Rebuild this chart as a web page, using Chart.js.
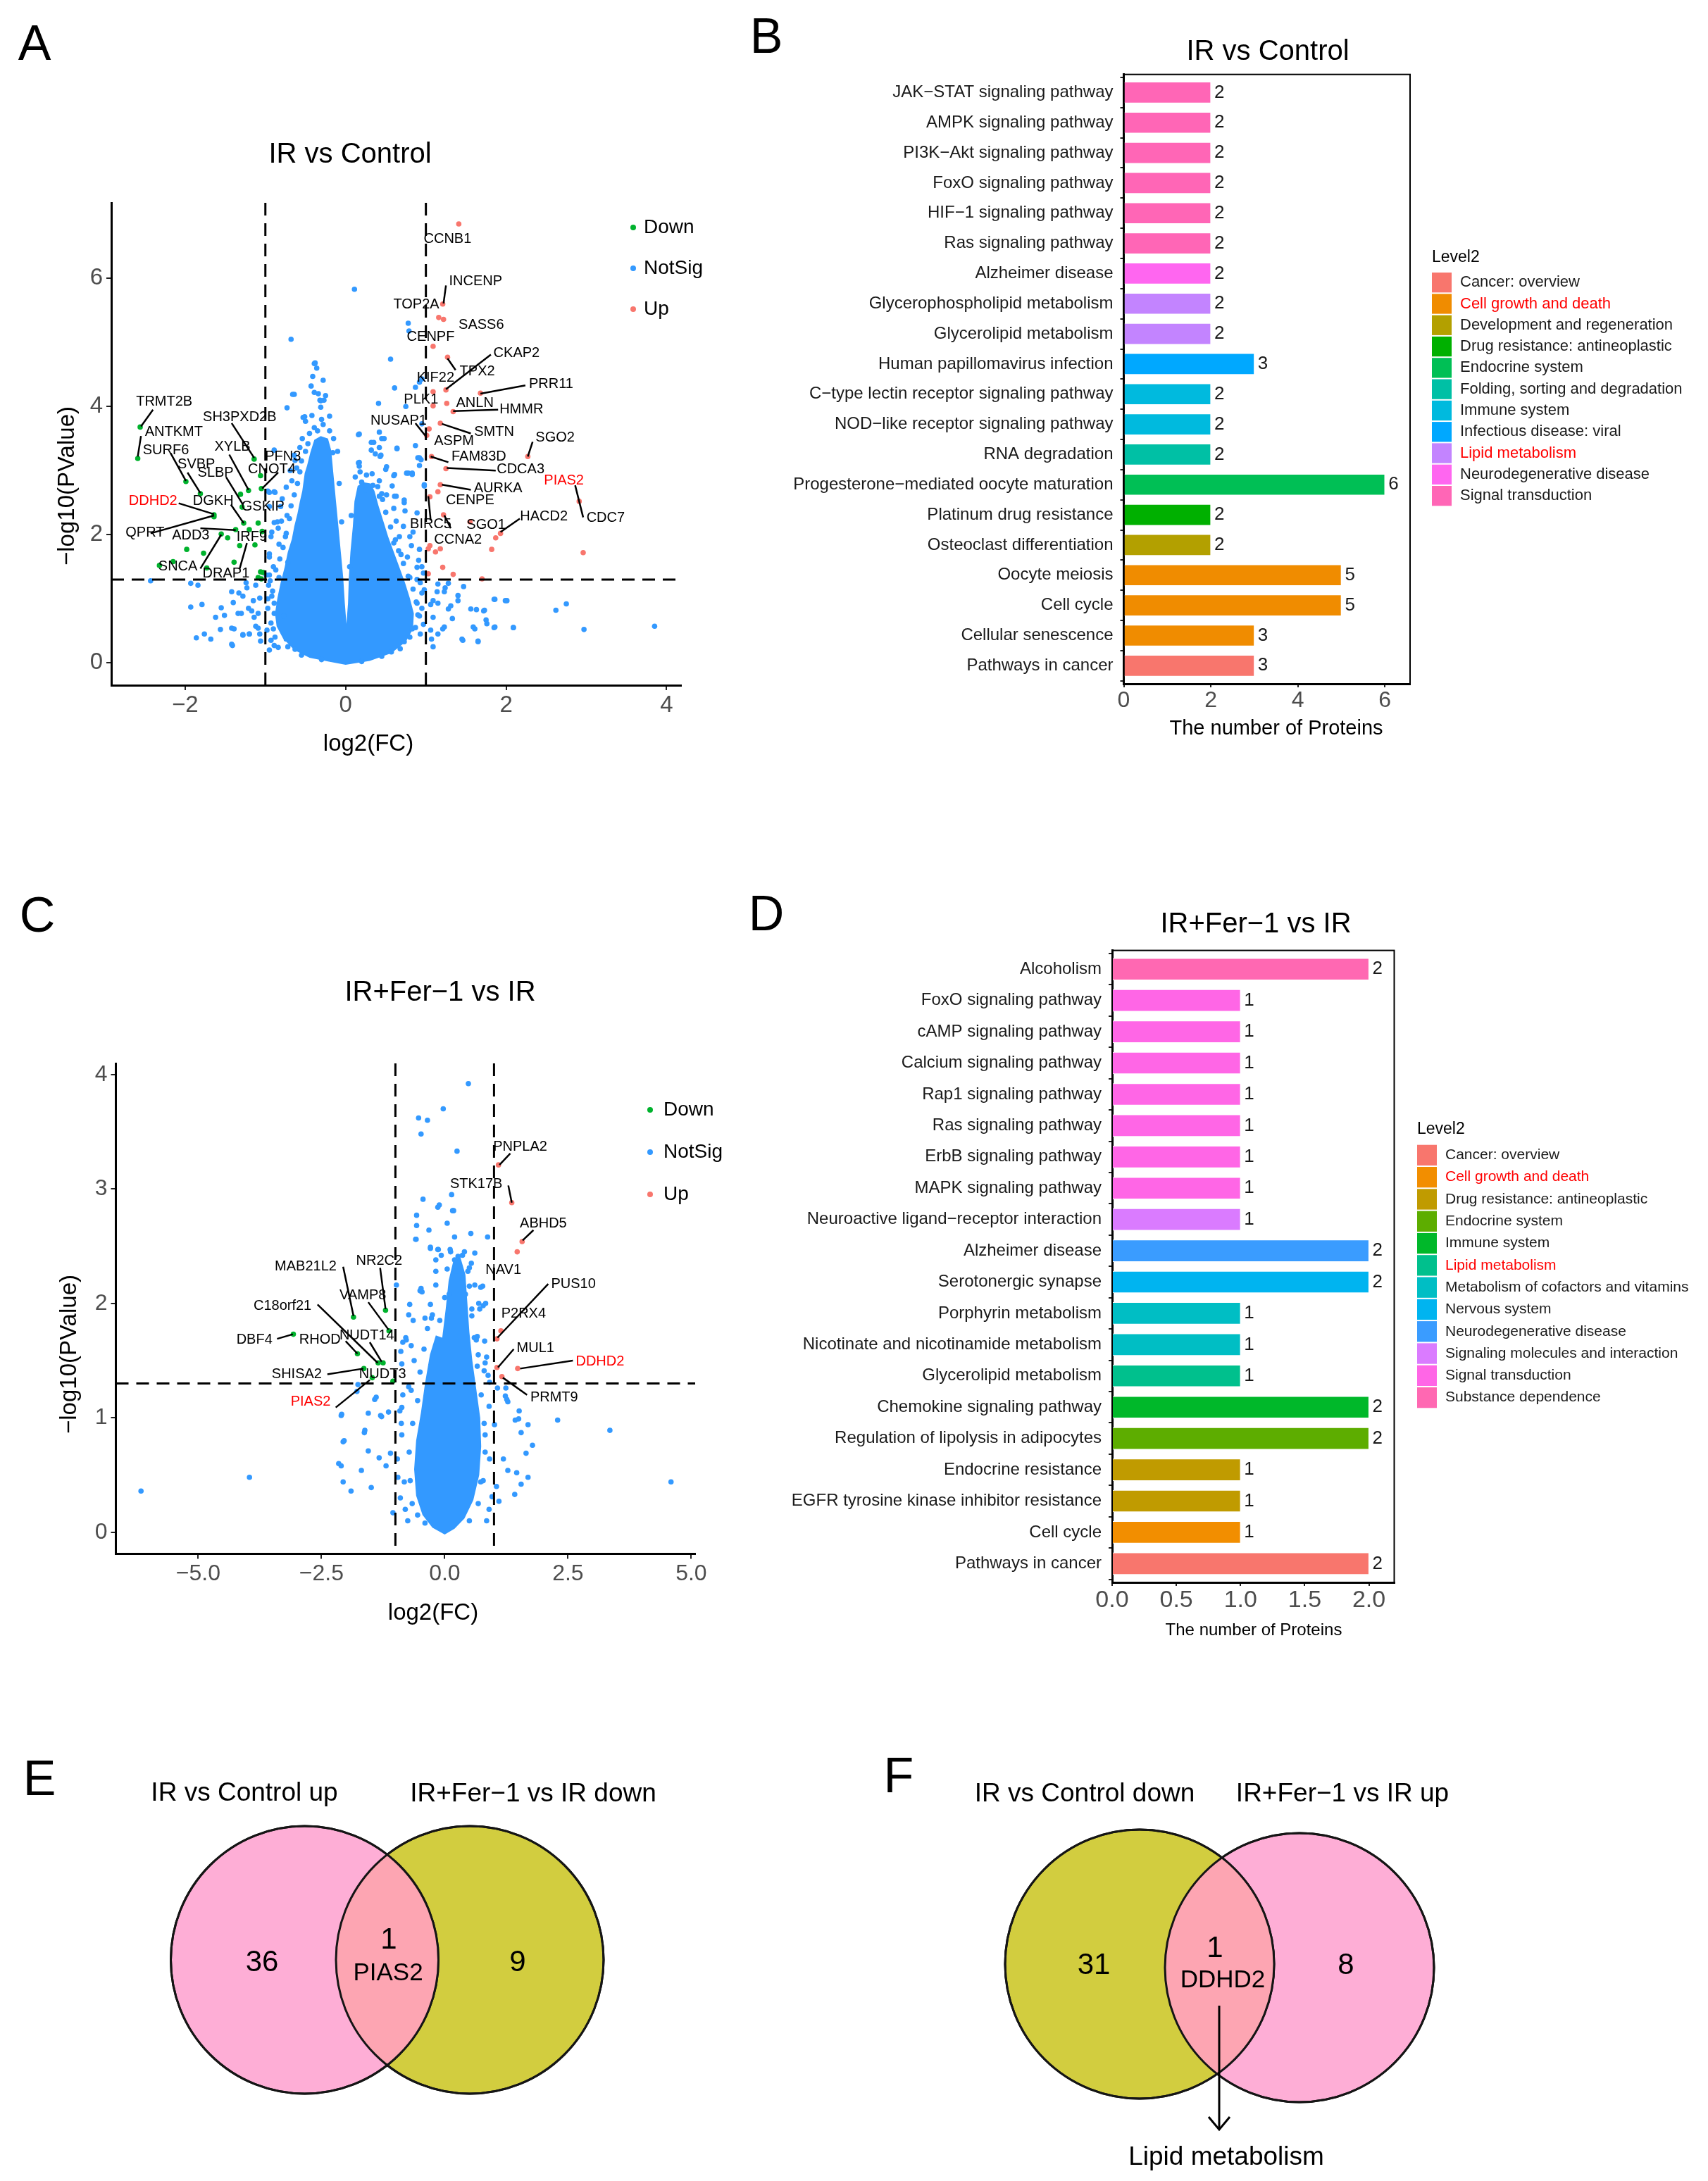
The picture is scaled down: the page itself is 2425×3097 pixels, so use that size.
<!DOCTYPE html>
<html>
<head>
<meta charset="utf-8">
<title>Proteomics figure</title>
<script src="https://cdn.jsdelivr.net/npm/chart.js@4.4.1/dist/chart.umd.min.js"></script>
<style>
html,body{margin:0;padding:0;background:#ffffff;}
#wrap{position:relative;width:2425px;height:3097px;background:#ffffff;overflow:hidden;}
#wrap canvas{position:absolute;display:block;}
</style>
</head>
<body>
<div id="wrap">
<canvas id="cA" style="left:0px;top:0px;width:1060px;height:1130px" width="1060" height="1130"></canvas>
<canvas id="cB" style="left:1060px;top:0px;width:1365px;height:1130px" width="1365" height="1130"></canvas>
<canvas id="cC" style="left:0px;top:1230px;width:1060px;height:1130px" width="1060" height="1130"></canvas>
<canvas id="cD" style="left:1060px;top:1230px;width:1365px;height:1130px" width="1365" height="1130"></canvas>
<canvas id="cE" style="left:0px;top:2450px;width:1200px;height:647px" width="1200" height="647"></canvas>
<canvas id="cF" style="left:1200px;top:2450px;width:1225px;height:647px" width="1225" height="647"></canvas>
</div>
<script>
const FONT = "'Liberation Sans', Arial, Helvetica, sans-serif";
Chart.defaults.font.family = FONT;

/* ================= DATA ================= */
/* Panel A : IR vs Control volcano  [log2FC, -log10 P] */
const volcanoA_notSig = [
[0.11,5.83],[-0.68,5.05],[0.56,4.74],[0.78,5.30],[0.79,5.18],[-0.38,4.68],[-0.36,4.60],[-0.28,4.41],[0.61,4.29],[0.87,4.30],[0.92,4.38],[0.95,4.43],[-0.64,4.19],[-0.39,4.22],[-0.32,4.10],[-0.27,4.10],[-0.73,3.98],[0.41,4.05],[0.75,4.00],[-0.53,3.83],[-0.50,3.77],[0.95,3.73],[0.42,3.60],[0.45,3.50],[0.17,3.57],[0.32,3.44],[0.64,3.35],[0.87,3.39],[0.44,3.24],[0.90,3.20],[0.94,3.17],[0.17,3.13],[0.17,3.07],[0.50,3.02],[0.61,2.94],[0.78,2.96],[0.83,2.96],[0.98,2.78],[0.20,2.82],[0.25,2.70],[0.34,2.77],[0.45,2.64],[0.61,2.60],[0.73,2.54],[0.89,2.34],[0.84,2.04],[0.67,1.97],[0.92,1.77],[0.95,1.50],[0.89,1.30],[0.98,1.14],
[1.28,1.24],[1.23,1.11],[1.40,0.97],[1.28,0.84],[1.56,0.84],[1.73,0.82],[1.86,0.99],[2.01,0.97],[1.06,0.91],[1.09,0.71],[1.23,0.56],[1.06,0.51],[1.09,0.25],[1.59,0.56],[1.76,0.61],[1.86,0.56],[2.09,0.55],[1.45,0.37],[1.65,0.34],[2.62,0.82],[2.75,0.92],[2.97,0.52],[3.85,0.57],[1.14,1.11],
[-2.43,1.28],[-1.93,1.24],[-1.84,1.21],[-1.93,0.87],[-1.79,0.91],[-1.55,0.86],[-1.40,0.94],[-1.28,1.04],[-1.23,1.17],[-1.42,1.11],[-1.62,0.71],[-1.51,0.74],[-1.34,0.77],[-1.17,0.81],[-1.14,0.71],[-1.56,0.52],[-1.42,0.54],[-1.28,0.44],[-1.20,0.45],[-1.09,0.54],[-1.86,0.39],[-1.76,0.45],[-1.68,0.37],[-1.41,0.27],[-1.06,0.34],
[-0.99,1.37],[-0.95,1.70],[-0.92,2.04],[-0.84,2.10],[-0.89,2.67],[-0.97,2.68],[-0.95,2.44],[-0.81,2.44],[-0.85,2.20],[-0.75,1.97],[-0.73,2.30],[-0.67,2.84],[-0.61,3.04],[-0.64,3.24],[-0.95,1.37],[-0.92,1.04],[-0.89,0.77],[-0.98,0.51],[-0.84,0.24],
[-0.39,4.67],[-0.41,4.47],[-0.43,4.32],[-0.66,4.19],[-0.34,4.20],[-0.25,4.17],[-0.31,4.09],[-0.31,3.99],[-0.42,3.86],[-0.51,3.84],[-0.28,3.72],[-0.39,3.67],[-0.54,3.50],[-0.15,3.50],[-0.57,3.36],[-0.16,3.28],[-0.89,3.32],[-0.63,3.16],[-0.69,3.00],[-0.74,2.74],[-0.95,2.66],[-0.88,2.66],[-0.79,2.56],[-0.89,2.19],[-0.80,2.21],[-0.93,1.97],[-0.83,1.85],[-0.95,1.65],[-0.72,1.57],[-0.83,1.33],[-0.96,1.21],[-0.89,0.93],[-0.77,0.73],[-0.90,0.53],[-0.74,0.37],[-0.63,0.21],
[0.16,3.56],[0.35,3.44],[0.42,3.36],[0.32,3.32],[0.48,3.50],[0.16,3.12],[0.37,3.26],[0.43,3.22],[0.51,3.06],[0.64,3.34],[0.92,3.20],[0.92,3.08],[0.60,2.92],[0.76,2.96],[0.83,2.94],[0.42,2.84],[0.58,2.76],[0.42,2.60],[0.51,2.62],[0.63,2.60],[0.73,2.50],[0.60,2.41],[0.98,2.76],[0.74,2.37],[0.63,2.21],[0.72,2.13],[0.80,1.97],[0.60,1.87],[0.82,1.83],[0.69,1.69],[0.77,1.65],[0.89,1.49],[0.80,1.33],[0.95,1.09],[0.89,0.93],[0.92,0.73],[0.83,0.53],[0.73,0.33],[0.57,0.17],
[1.15,1.23],[1.24,1.17],[1.47,1.19],[1.40,1.05],[1.85,0.99],[1.99,0.97],[1.09,0.97],[1.15,0.93],[1.31,0.89],[1.33,0.69],[1.21,0.53],[1.15,0.45],[1.07,0.37],[1.46,0.35],[1.65,0.33],[1.75,0.67],[1.61,0.53],[1.85,0.55],[2.09,0.55],[1.63,0.83],[1.72,0.81],
[-1.24,1.25],[-1.33,1.09],[-1.12,1.21],[-1.15,0.97],[-1.07,1.01],[-1.30,0.77],[-1.21,0.85],[-1.09,0.77],[-1.12,0.57],[-1.28,0.43],[-1.20,0.45],[-1.07,0.45],[-1.39,0.53],[-1.42,0.29],[-0.89,0.27],
[-0.88,0.40],[-0.93,0.62],[-0.97,0.85],[-0.91,1.12],[-0.87,1.45],[-0.82,1.62],[-0.78,1.80],[-0.74,2.02],[-0.70,2.25],[-0.68,2.45],[-0.64,2.62],[-0.60,2.80],[-0.57,2.98],[-0.55,3.15],[-0.50,3.30],[-0.47,3.42],[-0.45,3.58],[-0.35,3.62],[-0.30,3.80],[-0.20,3.62],[-0.20,3.85],[-0.10,3.30],
[-0.08,2.80],[-0.05,2.20],[0.07,2.30],[0.12,2.90],[0.05,1.50],
[0.18,2.98],[0.26,2.93],[0.33,2.95],[0.40,2.75],[0.46,2.55],[0.50,2.35],[0.56,2.12],[0.62,1.92],[0.66,1.75],[0.72,1.55],[0.78,1.35],[0.84,1.15],[0.88,0.95],[0.90,0.75],[0.87,0.55],[0.80,0.40],[0.68,0.22],[0.45,0.10],
[-0.30,0.05],[-0.55,0.12],[-0.72,0.25],[0.20,0.02],
[-0.95,0.20],[-0.93,0.35],[-0.97,1.00],[-0.94,1.28],[0.93,0.45],[0.97,0.60],[0.95,0.85],[0.93,1.25],[0.97,1.40],[0.91,1.60],[-0.90,1.50]
];
const volcanoA_down = [
[-2.56,3.68],[-2.59,3.19],[-1.99,2.83],[-1.81,2.64],[-1.14,3.18],[-1.21,2.69],[-1.05,2.72],[-1.06,2.92],[-1.29,2.43],[-1.27,2.18],[-1.64,2.31],[-1.64,2.28],[-1.37,2.08],[-1.55,2.01],[-1.20,2.08],[-1.09,2.18],[-1.47,1.95],[-1.32,1.83],[-1.13,1.84],[-1.04,2.05],[-1.98,1.77],[-1.77,1.71],[-2.15,1.58],[-2.32,1.52],[-1.73,1.48],[-1.39,1.57],[-1.06,1.42],[-1.03,1.41],[-1.09,1.33],[-1.05,1.31],[-1.31,2.63]
];
const volcanoA_up = [
[1.41,6.85],[1.21,5.60],[1.16,5.39],[1.22,5.36],[1.09,4.94],[1.27,4.77],[1.25,4.26],[1.09,4.23],[1.68,4.21],[1.26,4.05],[1.09,4.01],[1.34,3.92],[1.18,3.74],[1.04,3.65],[1.01,3.55],[1.07,3.22],[2.27,3.22],[1.25,3.03],[1.18,2.78],[1.15,2.67],[1.05,2.59],[2.91,2.52],[1.22,2.31],[1.55,2.20],[1.93,2.02],[1.87,1.95],[1.82,1.77],[2.96,1.72],[1.05,1.83],[1.03,1.78],[1.12,1.73],[1.18,1.78],[1.21,1.49],[1.03,1.39],[1.34,1.38],[1.70,1.31]
];
/* outline of the densely packed non-significant cloud */
const volcanoA_cloud = [
[0,-0.03],[-0.22,0.02],[-0.45,0.08],[-0.64,0.20],[-0.78,0.38],[-0.86,0.57],[-0.88,0.77],[-0.85,1.01],[-0.81,1.25],[-0.76,1.49],[-0.72,1.73],[-0.67,1.93],[-0.64,2.13],[-0.60,2.33],[-0.57,2.52],[-0.54,2.68],[-0.51,2.96],[-0.48,3.08],[-0.44,3.28],[-0.39,3.48],[-0.31,3.54],[-0.22,3.50],[-0.18,3.32],[-0.15,2.92],[-0.12,2.52],[-0.09,2.13],[-0.06,1.73],[-0.03,1.33],[-0.01,0.93],[0.01,0.61],[0.03,0.93],[0.04,1.33],[0.06,1.73],[0.09,2.13],[0.11,2.52],[0.15,2.76],[0.22,2.82],[0.31,2.80],[0.36,2.68],[0.41,2.45],[0.47,2.21],[0.53,1.97],[0.60,1.73],[0.67,1.49],[0.74,1.25],[0.80,1.01],[0.85,0.77],[0.84,0.53],[0.75,0.33],[0.57,0.15],[0.30,0.03],[0,-0.03]
];
/* gene labels: [name, labelX, labelY, connector [x1,y1,x2,y2] or null, highlighted] */
const volcanoA_labels = [
["CCNB1",1.27,6.61,null],["INCENP",1.62,5.95,[1.25,5.89,1.22,5.61]],["TOP2A",0.88,5.59,null],["SASS6",1.69,5.27,null],["CENPF",1.06,5.09,null],
["CKAP2",2.13,4.83,[1.81,4.81,1.25,4.27]],["TPX2",1.64,4.55,[1.37,4.57,1.27,4.75]],["KIF22",1.12,4.45,null],["PRR11",2.56,4.35,[2.24,4.33,1.68,4.20]],
["PLK1",0.94,4.11,null],["ANLN",1.61,4.05,null],["HMMR",2.19,3.95,[1.90,3.95,1.34,3.93]],["NUSAP1",0.66,3.78,[0.87,3.74,0.99,3.55]],
["SMTN",1.85,3.60,[1.56,3.58,1.20,3.73]],["ASPM",1.35,3.46,null],["SGO2",2.61,3.51,[2.33,3.45,2.27,3.22]],["FAM83D",1.66,3.22,[1.28,3.13,1.06,3.22]],
["CDCA3",2.18,3.02,[1.87,3.00,1.26,3.04]],["PIAS2",2.72,2.84,[2.86,2.77,2.96,2.27],true],["AURKA",1.90,2.72,[1.56,2.70,1.20,2.78]],["CENPE",1.55,2.54,null],
["CDC7",3.24,2.26,null],["HACD2",2.47,2.28,[2.17,2.25,1.93,2.04]],["BIRC5",1.06,2.16,[1.06,2.22,1.03,2.60]],["SGO1",1.75,2.15,null],["CCNA2",1.40,1.92,[1.31,2.10,1.23,2.30]],
["TRMT2B",-2.26,4.08,[-2.40,3.95,-2.55,3.69]],["ANTKMT",-2.14,3.60,[-2.55,3.54,-2.59,3.22]],["SURF6",-2.24,3.32,[-2.18,3.27,-1.99,2.84]],
["SH3PXD2B",-1.32,3.83,[-1.42,3.74,-1.14,3.20]],["XYLB",-1.41,3.37,[-1.45,3.25,-1.21,2.70]],["PFN3",-0.78,3.22,null],["CNOT4",-0.92,3.02,[-0.84,2.97,-1.04,2.72]],
["SVBP",-1.86,3.10,[-1.97,2.97,-1.81,2.65]],["SLBP",-1.62,2.96,[-1.49,2.90,-1.28,2.47]],["DDHD2",-2.40,2.52,[-2.08,2.49,-1.64,2.32],true],
["DGKH",-1.65,2.52,[-1.43,2.47,-1.27,2.18]],["GSKIP",-1.03,2.44,null],["QPRT",-2.50,2.03,[-2.43,2.02,-1.64,2.30]],["ADD3",-1.93,1.99,[-1.81,2.10,-1.37,2.07]],
["IRF9",-1.17,1.96,[-1.23,1.87,-1.32,1.47]],["SNCA",-2.09,1.50,[-1.81,1.47,-1.55,2.00]],["DRAP1",-1.49,1.39,null]
];

/* Panel C : IR+Fer-1 vs IR volcano */
const volcanoC_notSig = [
[0.48,3.92],[-0.03,3.70],[-0.53,3.62],[-0.35,3.60],[-0.48,3.48],[0.25,3.33],[0.14,2.95],[-0.44,2.91],[-0.11,2.86],[-0.14,2.84],[0.16,2.81],[-0.57,2.77],[0.05,2.70],[-0.57,2.68],[-0.32,2.64],[0.53,2.61],[0.87,2.58],[-0.59,2.56],[0.20,2.58],[-0.29,2.48],[-0.14,2.47],[-0.98,2.16],[-0.50,2.11],[-0.46,2.10],[0.73,2.14],[0.78,1.98],[0.71,1.95],[-0.73,1.90],[-0.64,1.85],[-0.78,1.68],[-0.89,1.58],[0.82,1.48],[0.91,1.31],
[-1.76,1.29],[-1.78,1.23],[-2.10,1.02],[-1.55,1.04],[-1.42,1.16],[-1.63,0.87],[-1.30,1.02],[-2.06,0.79],[-1.55,0.71],[-2.15,0.60],[-2.10,0.58],[-1.69,0.54],[-1.33,0.65],[-1.19,0.58],[-2.06,0.44],[-1.49,0.39],[-1.90,0.36],[-1.05,0.17],[-3.96,0.48],[-6.16,0.36],[-1.39,1.18],[-2.09,1.03],[-1.62,0.89],[-1.28,1.01],[-1.14,1.05],[-2.04,0.80],
[2.29,0.98],[3.35,0.89],[4.59,0.44],[1.78,0.76],[1.55,0.87],[1.23,1.19],[1.28,1.14],[1.51,1.06],[1.65,0.69],[1.69,0.48],[1.55,0.42],[1.28,0.54],[1.42,0.33],[1.10,0.27],[1.05,0.40],[1.19,0.64],[1.46,0.52],[1.01,0.94],[1.69,0.94],[1.07,1.26],[1.24,1.26],[1.26,1.16],[1.50,0.99],[1.43,0.98],
[-0.95,0.48],[-1.10,0.69],[-0.91,1.06],[-0.87,0.85],[-0.73,1.27],[-0.82,0.44],[-0.96,0.64],[0.64,1.06],[0.82,0.85],[0.91,0.64],[0.73,0.44],[0.96,0.31],[0.64,1.68],[0.55,1.89],[0.37,2.22],[0.50,2.31],[0.27,2.41],
[0.18,2.81],[-0.58,2.56],[-0.29,2.49],[-0.13,2.47],[0.11,2.47],[0.36,2.42],[0.61,2.44],[0.54,2.35],[-0.18,2.38],[-0.07,2.42],[0.20,2.38],[0.23,2.28],[0.47,2.28],[0.61,2.16],[0.77,2.15],[-0.48,2.13],[-0.18,2.16],[-0.18,2.28],[0.09,2.08],[0.42,2.08],[0.69,2.00],[0.83,2.00],[-0.71,1.99],[-0.29,1.99],[-0.27,1.87],[-0.40,1.87],[-0.79,1.70],[-0.68,1.63],[-0.85,1.66],[-0.87,1.47],[-0.62,1.50],[0.66,1.71],[0.81,1.67],[0.68,1.55],[0.85,1.53],[0.80,1.41],[0.88,1.37],[-0.87,1.09],[-0.85,1.20],[-0.68,1.24],
[-0.66,0.25],[-0.70,0.45],[-0.72,0.70],[-0.65,0.95],[-0.55,1.15],[-0.50,1.40],[-0.42,1.60],[-0.35,1.78],[-0.25,1.90],[-0.10,1.85],[0.00,2.05],[0.05,2.30],[0.12,2.45],[0.40,2.45],[0.50,2.15],[0.55,1.95],[0.60,1.70],[0.66,1.45],[0.74,1.20],[0.80,0.95],[0.82,0.70],[0.78,0.45],[0.68,0.25],[0.50,0.10],[-0.40,0.08],[-0.55,0.15],
[-0.90,0.30],[-0.80,0.20],[0.90,0.20],[0.85,0.10],[-0.75,0.10],[-0.88,0.95],[0.90,1.10]
];
const volcanoC_down = [
[-3.07,1.73],[-1.85,1.88],[-1.20,1.94],[-1.13,1.76],[-1.77,1.56],[-1.35,1.48],[-1.25,1.48],[-1.64,1.43],[-1.47,1.35],[-1.05,1.32]
];
const volcanoC_up = [
[1.09,3.21],[1.36,2.88],[1.57,2.54],[1.47,2.45],[1.06,1.69],[1.14,1.76],[1.06,1.44],[1.48,1.43],[1.16,1.36]
];
const volcanoC_cloud = [
[0,-0.02],[-0.25,0.04],[-0.45,0.15],[-0.58,0.32],[-0.62,0.55],[-0.58,0.80],[-0.48,1.05],[-0.40,1.30],[-0.30,1.55],[-0.18,1.72],[-0.05,1.70],[0.02,1.95],[0.08,2.20],[0.18,2.38],[0.32,2.40],[0.42,2.25],[0.46,2.00],[0.50,1.75],[0.56,1.50],[0.64,1.25],[0.72,1.00],[0.74,0.75],[0.70,0.50],[0.58,0.28],[0.40,0.12],[0.20,0.03],[0,-0.02]
];
const volcanoC_labels = [
["PNPLA2",1.53,3.37,[1.33,3.31,1.11,3.21]],["STK17B",0.64,3.04,[1.29,3.03,1.36,2.88]],["ABHD5",2.00,2.70,[1.80,2.64,1.58,2.55]],["NAV1",1.19,2.29,null],
["PUS10",2.61,2.17,[2.10,2.17,1.07,1.70]],["P2RX4",1.60,1.91,null],["MUL1",1.84,1.61,[1.40,1.60,1.08,1.44]],["DDHD2",3.15,1.49,[2.60,1.50,1.53,1.43],true],
["PRMT9",2.22,1.18,[1.67,1.20,1.18,1.35]],["MAB21L2",-2.82,2.32,[-2.06,2.32,-1.85,1.89]],["NR2C2",-1.33,2.37,[-1.31,2.31,-1.20,1.95]],
["VAMP8",-1.66,2.07,[-1.55,2.01,-1.14,1.77]],["C18orf21",-3.29,1.98,[-2.58,1.99,-1.36,1.48]],["DBF4",-3.86,1.68,[-3.40,1.69,-3.08,1.73]],
["RHOD",-2.53,1.68,[-2.01,1.67,-1.77,1.56]],["NUDT14",-1.58,1.72,[-1.52,1.66,-1.28,1.49]],["SHISA2",-3.00,1.38,[-2.38,1.38,-1.65,1.43]],
["NUDT3",-1.26,1.38,null],["PIAS2",-2.72,1.14,[-2.21,1.09,-1.52,1.33],true]
];
const fcCutoffs = [-1, 1];
const pCutoff = 1.3;

/* Panel B : KEGG, IR vs Control */
const barB_categories = ["JAK\u2212STAT signaling pathway","AMPK signaling pathway","PI3K\u2212Akt signaling pathway","FoxO signaling pathway","HIF\u22121 signaling pathway","Ras signaling pathway","Alzheimer disease","Glycerophospholipid metabolism","Glycerolipid metabolism","Human papillomavirus infection","C\u2212type lectin receptor signaling pathway","NOD\u2212like receptor signaling pathway","RNA degradation","Progesterone\u2212mediated oocyte maturation","Platinum drug resistance","Osteoclast differentiation","Oocyte meiosis","Cell cycle","Cellular senescence","Pathways in cancer"];
const barB_values = [2,2,2,2,2,2,2,2,2,3,2,2,2,6,2,2,5,5,3,3];
const barB_level2 = ["Signal transduction","Signal transduction","Signal transduction","Signal transduction","Signal transduction","Signal transduction","Neurodegenerative disease","Lipid metabolism","Lipid metabolism","Infectious disease: viral","Immune system","Immune system","Folding, sorting and degradation","Endocrine system","Drug resistance: antineoplastic","Development and regeneration","Cell growth and death","Cell growth and death","Cell growth and death","Cancer: overview"];
const legendB_levels = ["Cancer: overview","Cell growth and death","Development and regeneration","Drug resistance: antineoplastic","Endocrine system","Folding, sorting and degradation","Immune system","Infectious disease: viral","Lipid metabolism","Neurodegenerative disease","Signal transduction"];

/* Panel D : KEGG, IR+Fer-1 vs IR */
const barD_categories = ["Alcoholism","FoxO signaling pathway","cAMP signaling pathway","Calcium signaling pathway","Rap1 signaling pathway","Ras signaling pathway","ErbB signaling pathway","MAPK signaling pathway","Neuroactive ligand\u2212receptor interaction","Alzheimer disease","Serotonergic synapse","Porphyrin metabolism","Nicotinate and nicotinamide metabolism","Glycerolipid metabolism","Chemokine signaling pathway","Regulation of lipolysis in adipocytes","Endocrine resistance","EGFR tyrosine kinase inhibitor resistance","Cell cycle","Pathways in cancer"];
const barD_values = [2,1,1,1,1,1,1,1,1,2,2,1,1,1,2,2,1,1,1,2];
const barD_level2 = ["Substance dependence","Signal transduction","Signal transduction","Signal transduction","Signal transduction","Signal transduction","Signal transduction","Signal transduction","Signaling molecules and interaction","Neurodegenerative disease","Nervous system","Metabolism of cofactors and vitamins","Metabolism of cofactors and vitamins","Lipid metabolism","Immune system","Endocrine system","Drug resistance: antineoplastic","Drug resistance: antineoplastic","Cell growth and death","Cancer: overview"];
const legendD_levels = ["Cancer: overview","Cell growth and death","Drug resistance: antineoplastic","Endocrine system","Immune system","Lipid metabolism","Metabolism of cofactors and vitamins","Nervous system","Neurodegenerative disease","Signaling molecules and interaction","Signal transduction","Substance dependence"];
const legendHighlighted = ["Cell growth and death","Lipid metabolism"];

/* Panels E, F : Venn diagrams  [left only, shared, right only] */
const vennE_sets = ["IR vs Control up","IR+Fer\u22121 vs IR down"];
const vennE_counts = [36, 1, 9];
const vennE_shared = "PIAS2";
const vennF_sets = ["IR vs Control down","IR+Fer\u22121 vs IR up"];
const vennF_counts = [31, 1, 8];
const vennF_shared = "DDHD2";
const vennF_note = "Lipid metabolism";

/* ================= STYLE ================= */
const COL = {notSig:'#3399FF', down:'#00B22D', up:'#F8766D', tick:'#4D4D4D', text:'#1A1A1A', red:'#FF0000'};
const paletteB = {"Cancer: overview":"#F8766D","Cell growth and death":"#F08C00","Development and regeneration":"#B3A000","Drug resistance: antineoplastic":"#00B000","Endocrine system":"#00BF55","Folding, sorting and degradation":"#00C0A5","Immune system":"#00BADE","Infectious disease: viral":"#00A8FF","Lipid metabolism":"#C384FF","Neurodegenerative disease":"#FF66F0","Signal transduction":"#FF66B6"};
const paletteD = {"Cancer: overview":"#F8766D","Cell growth and death":"#F28E00","Drug resistance: antineoplastic":"#C09B00","Endocrine system":"#5DAD00","Immune system":"#00B82A","Lipid metabolism":"#00C08D","Metabolism of cofactors and vitamins":"#00BEC4","Nervous system":"#00B4F0","Neurodegenerative disease":"#3A9CFF","Signaling molecules and interaction":"#DA7BFF","Signal transduction":"#FF66E6","Substance dependence":"#FF68B2"};
const VENN = {pink:'#FEAED6', olive:'#D2CD3F', overlap:'#FDA5B2', line:'#151515'};

function drawText(ctx, s, x, y, size, color, align, rot) {
  ctx.save();
  ctx.font = size + 'px ' + FONT;
  ctx.fillStyle = color || '#000';
  ctx.textAlign = align || 'center';
  ctx.textBaseline = 'middle';
  ctx.translate(x, y);
  if (rot) ctx.rotate(rot);
  ctx.fillText(s, 0, 0);
  ctx.restore();
}
const fmtNum = d => v => (v < 0 ? '\u2212' : '') + Math.abs(v).toFixed(d);
const pts = a => a.map(p => ({x: p[0], y: p[1]}));

/* ================= VOLCANO ================= */
function buildVolcano(id, D, L) {
  const deco = {
    id: 'volcano_' + id,
    beforeDatasetsDraw(chart) {
      const {ctx, chartArea: a, scales: {x, y}} = chart;
      ctx.save();
      ctx.beginPath(); ctx.rect(a.left, a.top, a.right - a.left, a.bottom - a.top); ctx.clip();
      ctx.beginPath();
      D.cloud.forEach((p, i) => {
        const px = x.getPixelForValue(p[0]), py = y.getPixelForValue(p[1]);
        if (i === 0) ctx.moveTo(px, py); else ctx.lineTo(px, py);
      });
      ctx.closePath();
      ctx.fillStyle = COL.notSig; ctx.fill();
      ctx.restore();
    },
    afterDatasetsDraw(chart) {
      const {ctx, chartArea: a, scales: {x, y}} = chart;
      ctx.save();
      ctx.setLineDash([18, 11]); ctx.lineWidth = 3; ctx.strokeStyle = '#000';
      fcCutoffs.forEach(v => {
        const px = x.getPixelForValue(v);
        ctx.beginPath(); ctx.moveTo(px, a.top); ctx.lineTo(px, a.bottom); ctx.stroke();
      });
      const py = y.getPixelForValue(pCutoff);
      ctx.beginPath(); ctx.moveTo(a.left, py); ctx.lineTo(a.right, py); ctx.stroke();
      ctx.restore();
      ctx.save();
      ctx.lineWidth = 2.5; ctx.strokeStyle = '#000';
      D.labels.forEach(l => {
        if (l[3]) {
          const s = l[3];
          ctx.beginPath();
          ctx.moveTo(x.getPixelForValue(s[0]), y.getPixelForValue(s[1]));
          ctx.lineTo(x.getPixelForValue(s[2]), y.getPixelForValue(s[3]));
          ctx.stroke();
        }
      });
      ctx.restore();
      D.labels.forEach(l => {
        drawText(ctx, l[0], x.getPixelForValue(l[1]), y.getPixelForValue(l[2]), L.labelFont, l[4] ? COL.red : '#000', 'center');
      });
    },
    afterDraw(chart) {
      const ctx = chart.ctx;
      drawText(ctx, L.letter[0], L.letter[1], L.letter[2], 70, '#000');
      drawText(ctx, L.title[0], L.title[1], L.title[2], 40, '#000');
      drawText(ctx, L.xTitle[0], L.xTitle[1], L.xTitle[2], 33, '#000');
      drawText(ctx, L.yTitle[0], L.yTitle[1], L.yTitle[2], 33, '#000', 'center', -Math.PI / 2);
      const order = ['Down', 'NotSig', 'Up'];
      order.forEach((name, i) => {
        const ds = chart.data.datasets.find(d => d.label === name);
        ctx.save();
        ctx.fillStyle = ds.backgroundColor;
        ctx.beginPath(); ctx.arc(L.legend.x, L.legend.y[i], 4, 0, Math.PI * 2); ctx.fill();
        ctx.restore();
        drawText(ctx, name, L.legend.tx, L.legend.y[i], 28, '#000', 'left');
      });
    }
  };
  const axisBase = (min, max, step, fmt, fs) => ({
    type: 'linear', min: min, max: max, offset: false,
    ticks: {stepSize: step, includeBounds: false, color: COL.tick, font: {size: fs}, padding: 2, callback: fmt, maxRotation: 0, autoSkip: false},
    grid: {display: true, drawOnChartArea: false, drawTicks: true, tickLength: 7, color: '#222', lineWidth: 2},
    border: {display: true, color: '#000', width: 3}
  });
  const xs = axisBase(L.xMin, L.xMax, L.xStep, fmtNum(L.xDec), L.tickFont);
  xs.afterFit = s => { s.height = L.xAxisH; };
  const ys = axisBase(L.yMin, L.yMax, L.yStep, fmtNum(0), L.tickFont);
  ys.afterFit = s => { s.width = L.yAxisW; };
  ys.ticks.padding = 5;
  return new Chart(document.getElementById(id), {
    type: 'scatter',
    data: {datasets: [
      {label: 'NotSig', data: pts(D.notSig), backgroundColor: COL.notSig, borderWidth: 0, pointRadius: 3.8, order: 5},
      {label: 'Down', data: pts(D.down), backgroundColor: COL.down, borderWidth: 0, pointRadius: 3.8, order: 2},
      {label: 'Up', data: pts(D.up), backgroundColor: COL.up, borderWidth: 0, pointRadius: 3.8, order: 1}
    ]},
    options: {
      responsive: false, animation: false, events: [],
      layout: {padding: {top: L.padTop, right: L.padRight, left: 0, bottom: 0}},
      scales: {x: xs, y: ys},
      plugins: {legend: {display: false}, tooltip: {enabled: false}}
    },
    plugins: [deco]
  });
}

/* ================= BARS ================= */
function buildBars(id, cats, vals, levels, legendLevels, pal, L) {
  const deco = {
    id: 'bars_' + id,
    afterDatasetsDraw(chart) {
      const ctx = chart.ctx;
      chart.getDatasetMeta(0).data.forEach((el, i) => {
        drawText(ctx, String(vals[i]), el.x + 5, el.y, L.valueFont, COL.text, 'left');
      });
    },
    afterDraw(chart) {
      const {ctx, chartArea: a} = chart;
      ctx.save(); ctx.strokeStyle = '#000'; ctx.lineWidth = 2;
      ctx.strokeRect(a.left, a.top, a.right - a.left, a.bottom - a.top);
      ctx.restore();
      drawText(ctx, L.letter[0], L.letter[1], L.letter[2], 70, '#000');
      drawText(ctx, L.title[0], L.title[1], L.title[2], 40, '#000');
      drawText(ctx, L.xTitle[0], L.xTitle[1], L.xTitle[2], L.xTitleFont, '#000');
      drawText(ctx, 'Level2', L.leg.x, L.leg.titleY, 23, '#000', 'left');
      legendLevels.forEach((lv, i) => {
        const top = L.leg.top + i * L.leg.pitch;
        ctx.save(); ctx.fillStyle = pal[lv];
        ctx.fillRect(L.leg.x, top, 28, L.leg.pitch - 2);
        ctx.restore();
        drawText(ctx, lv, L.leg.tx, top + (L.leg.pitch - 2) / 2, L.leg.font,
                 legendHighlighted.includes(lv) ? COL.red : COL.text, 'left');
      });
    }
  };
  return new Chart(document.getElementById(id), {
    type: 'bar',
    data: {datasets: [{
      data: vals.map((v, i) => ({x: v, y: i})),
      backgroundColor: levels.map(l => pal[l]),
      borderColor: '#ffffff', borderWidth: 1, barThickness: L.barThick
    }]},
    options: {
      indexAxis: 'y', responsive: false, animation: false, events: [],
      layout: {padding: {top: L.padTop, right: L.padRight, left: 0, bottom: 0}},
      scales: {
        x: {type: 'linear', min: 0, max: L.xMax, offset: false,
            ticks: {stepSize: L.xStep, includeBounds: false, color: COL.tick, font: {size: L.tickFont}, padding: 0, maxRotation: 0, callback: fmtNum(L.xDec)},
            grid: {display: true, drawOnChartArea: false, tickLength: 5, color: '#222', lineWidth: 2},
            border: {display: true, color: '#000', width: 3},
            afterFit: s => { s.height = L.xAxisH; }},
        y: {type: 'linear', min: -0.6, max: cats.length - 0.4, reverse: true, offset: false,
            ticks: {stepSize: 1, includeBounds: false, autoSkip: false, color: COL.text, font: {size: 24}, padding: 10,
                    callback: v => (cats[v] !== undefined ? cats[v] : '')},
            grid: {display: true, drawOnChartArea: false, tickLength: 5, color: '#222', lineWidth: 2},
            border: {display: true, color: '#000', width: 3},
            afterFit: s => { s.width = L.yAxisW; }}
      },
      plugins: {legend: {display: false}, tooltip: {enabled: false}}
    },
    plugins: [deco]
  });
}

/* ================= VENN ================= */
function buildVenn(id, sets, counts, shared, L) {
  const deco = {
    id: 'venn_' + id,
    afterDatasetsDraw(chart) {
      const ctx = chart.ctx;
      const c0 = chart.getDatasetMeta(0).data[0], c1 = chart.getDatasetMeta(1).data[0];
      const r0 = c0.options.radius, r1 = c1.options.radius;
      ctx.save();
      ctx.beginPath(); ctx.arc(c0.x, c0.y, r0, 0, Math.PI * 2); ctx.clip();
      ctx.beginPath(); ctx.arc(c1.x, c1.y, r1, 0, Math.PI * 2);
      ctx.fillStyle = VENN.overlap; ctx.fill();
      ctx.restore();
      ctx.save(); ctx.lineWidth = 3; ctx.strokeStyle = VENN.line;
      ctx.beginPath(); ctx.arc(c0.x, c0.y, r0, 0, Math.PI * 2); ctx.stroke();
      ctx.beginPath(); ctx.arc(c1.x, c1.y, r1, 0, Math.PI * 2); ctx.stroke();
      ctx.restore();
      drawText(ctx, sets[0], L.t0[0], L.t0[1], 37, '#000');
      drawText(ctx, sets[1], L.t1[0], L.t1[1], 37, '#000');
      drawText(ctx, String(counts[0]), L.n0[0], L.n0[1], 42, '#000');
      drawText(ctx, String(counts[1]), L.n1[0], L.n1[1], 42, '#000');
      drawText(ctx, String(counts[2]), L.n2[0], L.n2[1], 42, '#000');
      drawText(ctx, shared, L.sh[0], L.sh[1], 35, '#000');
      drawText(ctx, L.letter[0], L.letter[1], L.letter[2], 70, '#000');
      if (L.note) {
        ctx.save(); ctx.strokeStyle = '#000'; ctx.lineWidth = 3;
        const ax = L.arrow[0], y0 = L.arrow[1], y1 = L.arrow[2];
        ctx.beginPath(); ctx.moveTo(ax, y0); ctx.lineTo(ax, y1); ctx.stroke();
        ctx.beginPath(); ctx.moveTo(ax - 15, y1 - 18); ctx.lineTo(ax, y1); ctx.lineTo(ax + 15, y1 - 18); ctx.stroke();
        ctx.restore();
        drawText(ctx, L.note, L.notePos[0], L.notePos[1], 37, '#000');
      }
    }
  };
  const canvas = document.getElementById(id);
  return new Chart(canvas, {
    type: 'bubble',
    data: {datasets: [
      {data: [{x: L.c0[0], y: L.c0[1], r: L.r}], backgroundColor: L.col0, borderColor: VENN.line, borderWidth: 3, clip: false},
      {data: [{x: L.c1[0], y: L.c1[1], r: L.r}], backgroundColor: L.col1, borderColor: VENN.line, borderWidth: 3, clip: false}
    ]},
    options: {
      responsive: false, animation: false, events: [],
      layout: {padding: 0, autoPadding: false},
      scales: {x: {type: 'linear', display: false, min: 0, max: canvas.width},
               y: {type: 'linear', display: false, min: 0, max: canvas.height, reverse: true}},
      plugins: {legend: {display: false}, tooltip: {enabled: false}}
    },
    plugins: [deco]
  });
}

/* ================= BUILD ================= */
buildVolcano('cA', {notSig: volcanoA_notSig, down: volcanoA_down, up: volcanoA_up, cloud: volcanoA_cloud, labels: volcanoA_labels}, {
  xMin: -2.92, xMax: 4.18, xStep: 2, xDec: 0, yMin: -0.35, yMax: 7.18, yStep: 2,
  padTop: 288, padRight: 93, yAxisW: 158, xAxisH: 157, tickFont: 33, labelFont: 20,
  title: ['IR vs Control', 497, 220], xTitle: ['log2(FC)', 523, 1057], yTitle: ['\u2212log10(PValue)', 96, 690],
  legend: {x: 899, y: [323, 381, 439], tx: 914}, letter: ['A', 49, 66]
});
buildVolcano('cC', {notSig: volcanoC_notSig, down: volcanoC_down, up: volcanoC_up, cloud: volcanoC_cloud, labels: volcanoC_labels}, {
  xMin: -6.67, xMax: 5.08, xStep: 2.5, xDec: 1, yMin: -0.19, yMax: 4.097, yStep: 1,
  padTop: 280, padRight: 73, yAxisW: 164.5, xAxisH: 153.4, tickFont: 32, labelFont: 20,
  title: ['IR+Fer\u22121 vs IR', 625, 180], xTitle: ['log2(FC)', 615, 1061], yTitle: ['\u2212log10(PValue)', 99, 693],
  legend: {x: 923, y: [346, 406, 466], tx: 942}, letter: ['C', 53, 74]
});
buildBars('cB', barB_categories, barB_values, barB_level2, legendB_levels, paletteB, {
  xMax: 6.58, xStep: 2, xDec: 0, tickFont: 32, valueFont: 26, barThick: 30,
  padTop: 105.7, padRight: 423, yAxisW: 535.5, xAxisH: 159,
  title: ['IR vs Control', 740, 74], xTitle: ['The number of Proteins', 752, 1035], xTitleFont: 29,
  leg: {x: 973, titleY: 366, top: 387, pitch: 30.3, tx: 1013, font: 22}, letter: ['B', 28, 56]
});
buildBars('cD', barD_categories, barD_values, barD_level2, legendD_levels, paletteD, {
  xMax: 2.197, xStep: 0.5, xDec: 1, tickFont: 34, valueFont: 26, barThick: 31,
  padTop: 119.6, padRight: 445.5, yAxisW: 519, xAxisH: 113,
  title: ['IR+Fer\u22121 vs IR', 723, 83], xTitle: ['The number of Proteins', 720, 1085], xTitleFont: 24,
  leg: {x: 952, titleY: 374, top: 395.7, pitch: 31.3, tx: 992, font: 21}, letter: ['D', 28, 72]
});
buildVenn('cE', vennE_sets, vennE_counts, vennE_shared, {
  c0: [432.5, 333], c1: [667, 333], r: 190, col0: VENN.pink, col1: VENN.olive,
  t0: [347, 97], t1: [757, 98], n0: [372, 337], n1: [552, 305], n2: [735, 337], sh: [551, 352],
  letter: ['E', 56, 80]
});
buildVenn('cF', vennF_sets, vennF_counts, vennF_shared, {
  c0: [418, 339], c1: [645, 344], r: 191, col0: VENN.olive, col1: VENN.pink,
  t0: [340, 98], t1: [706, 98], n0: [353, 341], n1: [525, 317], n2: [711, 341], sh: [536, 362],
  letter: ['F', 76, 76], note: vennF_note, arrow: [531, 398, 574], notePos: [541, 614]
});
</script>
</body>
</html>
